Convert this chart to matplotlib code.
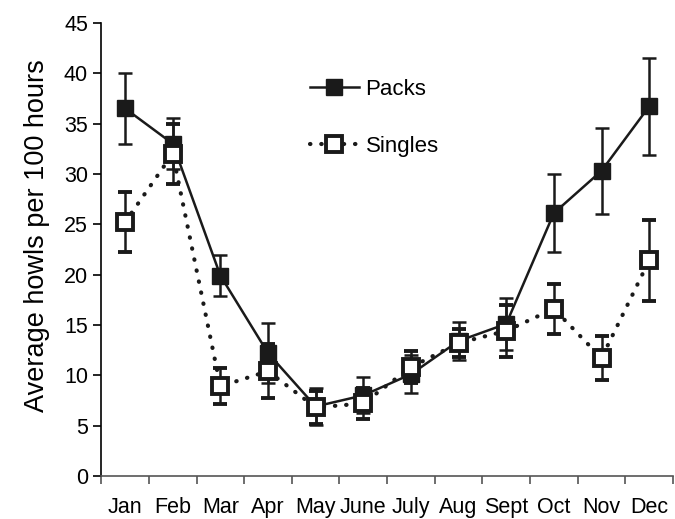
import numpy as np
import matplotlib.pyplot as plt
from matplotlib.lines import Line2D

months = ['Jan', 'Feb', 'Mar', 'Apr', 'May', 'June', 'July', 'Aug', 'Sept', 'Oct', 'Nov', 'Dec']
packs = [36.5, 33.0, 19.9, 12.2, 6.9, 8.0, 10.1, 13.4, 15.1, 26.1, 30.3, 36.7]
packs_err = [3.5, 2.5, 2.0, 3.0, 1.8, 1.8, 1.9, 1.9, 2.6, 3.9, 4.3, 4.8]
singles = [25.2, 32.0, 8.9, 10.4, 6.8, 7.2, 10.8, 13.2, 14.4, 16.6, 11.7, 21.4]
singles_err = [3.0, 3.0, 1.8, 2.7, 1.6, 1.5, 1.6, 1.4, 2.6, 2.5, 2.2, 4.0]

x = np.arange(len(months))
fonts = ['Liberation Sans', 'DejaVu Sans']
ink = '#1a1a1a'

fig = plt.figure(figsize=(6.75, 5.19), dpi=100)
ax = fig.add_axes([0.15, 0.083, 0.847, 0.873])

# packs: solid line, filled squares
ax.errorbar(x, packs, yerr=packs_err, color=ink, lw=1.8, marker='s', ms=12,
            mfc=ink, mec=ink, elinewidth=1.8, capsize=5, capthick=1.8, zorder=3)
# singles: dotted line, open squares
ax.errorbar(x, singles, yerr=singles_err, color=ink, lw=3, ls=(0, (0.1, 2.6)),
            dash_capstyle='round', marker='s', ms=12, mfc='white', mec=ink, mew=2.8,
            elinewidth=1.8, capsize=5, capthick=1.8, zorder=4)

ax.set_xlim(-0.5, len(months) - 0.5)
ax.set_ylim(0, 45)
ax.set_yticks(np.arange(0, 46, 5))
ax.set_xticks(x)
ax.set_xticklabels(months, fontsize=15.5, family=fonts)
ax.set_xticks(np.arange(-0.5, len(months), 1), minor=True)
ax.tick_params(axis='x', which='major', length=0, pad=15)
ax.tick_params(axis='x', which='minor', length=6, width=1.2, color='#555555')
ax.tick_params(axis='y', length=6, width=1.2, labelsize=15.5)
for lab in ax.get_yticklabels():
    lab.set_family(fonts)

ax.spines['top'].set_visible(False)
ax.spines['right'].set_visible(False)
ax.spines['bottom'].set_color('#555555')
ax.spines['bottom'].set_linewidth(1.2)
ax.spines['left'].set_linewidth(1.2)

ax.set_ylabel('Average howls per 100 hours', fontsize=19.5, family=fonts)
ax.yaxis.set_label_coords(-0.09, 0.53)

handles = [
    Line2D([], [], color=ink, lw=1.8, marker='s', ms=12, mfc=ink, mec=ink),
    Line2D([], [], color=ink, lw=3, ls=(0, (0.1, 2.6)), dash_capstyle='round',
           marker='s', ms=12, mfc='white', mec=ink, mew=2.8),
]
ax.legend(handles, ['Packs', 'Singles'], loc='upper left', bbox_to_anchor=(0.33, 0.92),
          frameon=False, handlelength=2.2, labelspacing=1.6, handletextpad=0.3,
          prop={'family': fonts, 'size': 16})

fig.savefig('out.png', dpi=100)
